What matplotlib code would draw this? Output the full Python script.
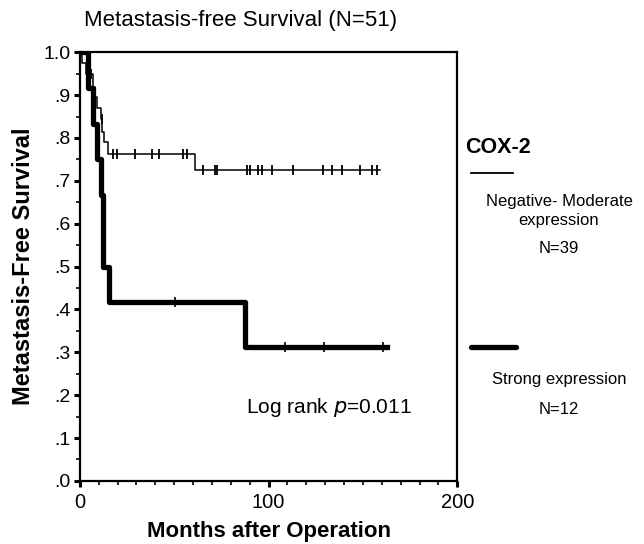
import matplotlib
matplotlib.use("Agg")
import matplotlib.pyplot as plt
from matplotlib.lines import Line2D
from matplotlib.ticker import MultipleLocator, FuncFormatter
import numpy as np

plt.rcParams['font.family'] = ['Liberation Sans', 'DejaVu Sans']

# Kaplan-Meier steps (months, survival)
neg_t = [0, 1, 3, 7, 8, 9, 11, 12, 13, 15, 61, 159]
neg_s = [1.0, 0.974, 0.949, 0.92, 0.895, 0.87, 0.845, 0.815, 0.79, 0.762, 0.725, 0.725]
neg_cens = [6, 11.5, 17.5, 19.6, 29, 38, 42, 54.6, 57, 65, 71.6, 72.7,
            88.5, 90, 94.4, 96.5, 102, 113, 129, 133.5, 139, 148.5, 155, 157.5]

str_t = [0, 4.5, 7, 9, 11, 12.3, 15.5, 87.5, 163]
str_s = [1.0, 0.917, 0.833, 0.75, 0.667, 0.5, 0.417, 0.3125, 0.3125]
str_cens = [50.5, 108.7, 129.5, 160.7]


def level_at(t_list, s_list, times):
    idx = np.searchsorted(t_list, times, side='right') - 1
    return np.array(s_list)[idx]


fig = plt.figure(figsize=(6.44, 5.44), dpi=100)
ax = fig.add_axes([0.124, 0.116, 0.586, 0.788])

ax.step(neg_t, neg_s, where='post', color='black', lw=1.1)
ax.plot(neg_cens, level_at(neg_t, neg_s, neg_cens), ls='none', marker='|',
        ms=7, mew=1.3, color='black')

ax.step(str_t, str_s, where='post', color='black', lw=3.8)
ax.plot(str_cens, level_at(str_t, str_s, str_cens), ls='none', marker='|',
        ms=7, mew=1.2, color='black')

ax.set_xlim(0, 200)
ax.set_ylim(0, 1.0)
ax.xaxis.set_major_locator(MultipleLocator(100))
ax.xaxis.set_minor_locator(MultipleLocator(10))
ax.yaxis.set_major_locator(MultipleLocator(0.1))
ax.yaxis.set_minor_locator(MultipleLocator(0.05))


def yfmt(v, pos):
    if v > 0.99:
        return "1.0"
    return ("%.1f" % v).lstrip("0")


ax.yaxis.set_major_formatter(FuncFormatter(yfmt))
ax.tick_params(which='major', direction='out', length=4, width=2.2)
ax.tick_params(axis='x', which='major', labelsize=14.5, pad=5)
ax.tick_params(axis='y', which='major', labelsize=14, pad=3)
ax.tick_params(which='minor', direction='out', length=3, width=1.2)
for sp in ax.spines.values():
    sp.set_linewidth(1.6)

ax.set_xlabel("Months after Operation", fontsize=16, fontweight='bold', labelpad=6)
ax.set_ylabel("Metastasis-Free Survival", fontsize=17, fontweight='bold', labelpad=6)
fig.text(0.373, 0.963, "Metastasis-free Survival (N=51)", fontsize=16,
         ha='center', va='center')

ax.text(0.44, 0.172, "Log rank $\\it{p}$=0.011", transform=ax.transAxes,
        fontsize=15, ha='left', va='center')

# legend at the right
fig.text(0.722, 0.728, "COX-2", fontsize=15.5, fontweight='bold', ha='left', va='center')
fig.add_artist(Line2D([0.731, 0.797], [0.682, 0.682], color='black', lw=1.3))
fig.text(0.868, 0.6305, "Negative- Moderate", fontsize=12, ha='center', va='center')
fig.text(0.868, 0.5938, "expression", fontsize=12, ha='center', va='center')
fig.text(0.868, 0.544, "N=39", fontsize=12, ha='center', va='center')
fig.add_artist(Line2D([0.731, 0.801], [0.362, 0.362], color='black', lw=3.8,
                      solid_capstyle='round'))
fig.text(0.868, 0.3015, "Strong expression", fontsize=12, ha='center', va='center')
fig.text(0.868, 0.248, "N=12", fontsize=12, ha='center', va='center')

fig.savefig("out.png", dpi=100)
